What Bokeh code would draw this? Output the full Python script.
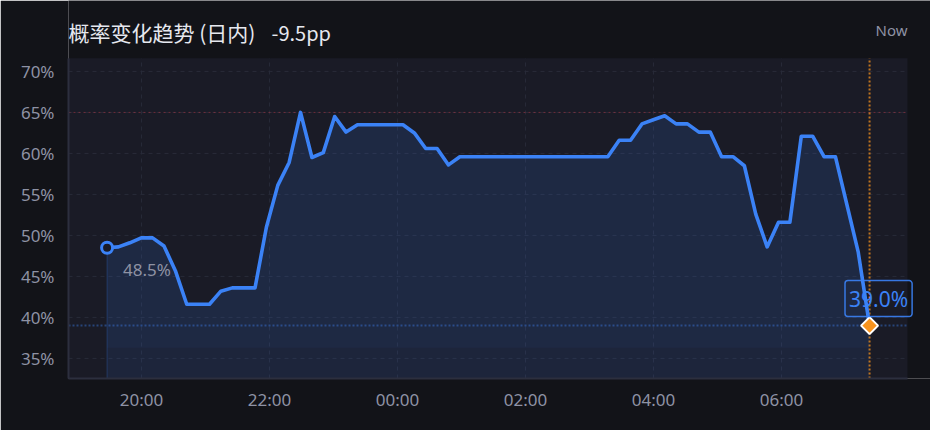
import numpy as np
import pandas as pd
from bokeh.plotting import figure
from bokeh.models import (Range1d, FixedTicker, PrintfTickFormatter, DatetimeTickFormatter,
                          Label, BoxAnnotation, ColumnDataSource)
from bokeh.embed import file_html
from bokeh.resources import INLINE

# ---------------- data ----------------
TITLE = "概率变化趋势 (日内)"
DELTA_TEXT = "-9.5pp"
NOW_TEXT = "Now"
START_TIME = "2024-05-01 19:27:40"
END_TIME = "2024-05-02 07:22:30"
probability = [
    48.5, 48.6, 49.1, 49.7, 49.7, 48.7, 45.7, 41.6, 41.6, 41.6,
    43.2, 43.6, 43.6, 43.6, 51.0, 56.1, 58.9, 65.0, 59.5, 60.1,
    64.5, 62.6, 63.5, 63.5, 63.5, 63.5, 63.5, 62.5, 60.6, 60.6,
    58.6, 59.6, 59.6, 59.6, 59.6, 59.6, 59.6, 59.6, 59.6, 59.6,
    59.6, 59.6, 59.6, 59.6, 59.6, 61.6, 61.6, 63.6, 64.1, 64.6,
    63.6, 63.6, 62.6, 62.6, 59.6, 59.6, 58.5, 52.6, 48.6, 51.6,
    51.6, 62.1, 62.1, 59.6, 59.6, 53.8, 48.0, 39.0,
]
REF_HIGH = 65.0
y_ticks = [35, 40, 45, 50, 55, 60, 65, 70]
x_tick_labels = ["2024-05-01 20:00", "2024-05-01 22:00", "2024-05-02 00:00",
                 "2024-05-02 02:00", "2024-05-02 04:00", "2024-05-02 06:00"]

# ---------------- layout (axis extents) ----------------
X_START = "2024-05-01 18:51:30"     # left edge of plot area
X_RIGHT = "2024-05-02 07:58:05"     # right edge of plot area
X_CANVAS = "2024-05-02 08:19:38"    # right edge of canvas
Y_MIN, Y_TOP = 32.55, 71.6          # plot area
Y_CANVAS = 78.65                    # top of canvas
FILL_BAND = 36.3


def ms(ts):
    return pd.Timestamp(ts).value / 1e6


times = pd.date_range(START_TIME, END_TIME, periods=len(probability))
t_ms = [ms(t) for t in times]
first_v, last_v = probability[0], probability[-1]
x0, x1 = ms(X_START), ms(X_RIGHT)
x_ticks = [ms(s) for s in x_tick_labels]

# ---------------- style ----------------
PAGE_BG = "#121318"
PLOT_BG = "#1a1b26"
BLUE = "#3b82f6"
ORANGE = "#f7931e"
TICK_C = "#8e92a4"
GRID_C = "#282b39"
AXIS_C = "#2c2f3e"
TITLE_C = "#e6e8ef"
FONT = "Noto Sans"
CJK = "Noto Sans CJK SC"

p = figure(width=930, height=430, x_axis_type="datetime",
           x_range=Range1d(x0, ms(X_CANVAS)),
           y_range=Range1d(Y_MIN, Y_CANVAS),
           output_backend="svg", toolbar_location=None,
           min_border_left=68, min_border_right=0, min_border_top=0, min_border_bottom=52)
p.background_fill_color = PAGE_BG
p.border_fill_color = PAGE_BG
p.outline_line_color = None
p.grid.visible = False

# plot area background
p.add_layout(BoxAnnotation(left=x0, right=x1, bottom=Y_MIN, top=Y_TOP,
                           fill_color=PLOT_BG, fill_alpha=1.0, line_color=None,
                           level="underlay"))

# grid lines
p.segment(x0=[x0] * len(y_ticks), y0=y_ticks, x1=[x1] * len(y_ticks), y1=y_ticks,
          line_color=GRID_C, line_width=1, line_dash="4 4")
p.segment(x0=x_ticks, y0=[Y_MIN] * len(x_ticks), x1=x_ticks, y1=[Y_TOP] * len(x_ticks),
          line_color=GRID_C, line_width=1, line_dash="4 4")

src = ColumnDataSource(dict(t=t_ms, v=probability,
                            base=[Y_MIN] * len(probability),
                            band=[FILL_BAND] * len(probability)))

# area fills
p.varea(x="t", y1="base", y2="v", source=src, fill_color=BLUE, fill_alpha=0.10)
p.varea(x="t", y1="band", y2="v", source=src, fill_color=BLUE, fill_alpha=0.045)
p.segment(x0=[t_ms[0]], y0=[first_v], x1=[t_ms[0]], y1=[Y_MIN],
          line_color=BLUE, line_alpha=0.25, line_width=1)

# reference lines
p.segment(x0=[x0], y0=[REF_HIGH], x1=[x1], y1=[REF_HIGH], line_color="#b23a48",
          line_alpha=0.55, line_width=1, line_dash="2 3")
p.segment(x0=[x0], y0=[last_v], x1=[x1], y1=[last_v], line_color=BLUE,
          line_alpha=0.4, line_width=2, line_dash="2 2")
p.segment(x0=[t_ms[-1]], y0=[Y_MIN], x1=[t_ms[-1]], y1=[Y_TOP], line_color=ORANGE,
          line_alpha=0.75, line_width=2, line_dash="2 2")

# main line
p.line(x="t", y="v", source=src, line_color=BLUE, line_width=3.6,
       line_join="round", line_cap="round")

# markers
p.scatter(x=[t_ms[0]], y=[first_v], marker="circle", size=11,
          fill_color=PLOT_BG, line_color=BLUE, line_width=3)
p.scatter(x=[t_ms[-1]], y=[last_v], marker="square", angle=np.pi / 4, size=12,
          fill_color=ORANGE, line_color="white", line_width=2)

# value labels
p.add_layout(Label(x=t_ms[0], y=first_v, text=f"{first_v:.1f}%", x_offset=16, y_offset=-22,
                   text_baseline="middle", text_align="left",
                   text_color=TICK_C, text_font=FONT, text_font_size="17px"))
p.add_layout(Label(x=t_ms[-1], y=last_v, text=f"{last_v:.1f}%", x_offset=9, y_offset=27,
                   text_baseline="middle", text_align="center",
                   text_color=BLUE, text_font=FONT, text_font_size="21px",
                   border_line_color=BLUE, border_line_width=1.5, border_line_alpha=0.9,
                   background_fill_color=PLOT_BG, background_fill_alpha=0.0,
                   padding=4, border_radius=3))

# header texts
p.add_layout(Label(x=x0, y=Y_TOP, text=TITLE,
                   y_offset=26, text_baseline="middle", text_align="left",
                   text_color=TITLE_C, text_font=CJK, text_font_size="21px"))
p.add_layout(Label(x=x0, y=Y_TOP, text=DELTA_TEXT, x_offset=203,
                   y_offset=26, text_baseline="middle", text_align="left",
                   text_color=TITLE_C, text_font=CJK, text_font_size="20px"))
p.add_layout(Label(x=x1, y=Y_TOP, text=NOW_TEXT,
                   y_offset=28, text_baseline="middle", text_align="right",
                   text_color=TICK_C, text_font=FONT, text_font_size="15px"))

# axes
p.yaxis.ticker = FixedTicker(ticks=y_ticks)
p.yaxis.formatter = PrintfTickFormatter(format="%d%%")
p.yaxis.bounds = (Y_MIN, Y_TOP)
p.xaxis.ticker = FixedTicker(ticks=x_ticks)
p.xaxis.formatter = DatetimeTickFormatter(hours="%H:%M", minutes="%H:%M", days="%H:%M")
p.xaxis.bounds = (x0, x1)
for ax in (p.xaxis[0], p.yaxis[0]):
    ax.major_tick_line_color = None
    ax.minor_tick_line_color = None
    ax.axis_line_color = AXIS_C
    ax.axis_line_width = 2
    ax.major_label_text_color = TICK_C
    ax.major_label_text_font = FONT
    ax.major_label_text_font_size = "17px"
p.yaxis.major_label_standoff = 8
p.xaxis.major_label_standoff = 3

open("out.html", "w").write(file_html(p, INLINE))
